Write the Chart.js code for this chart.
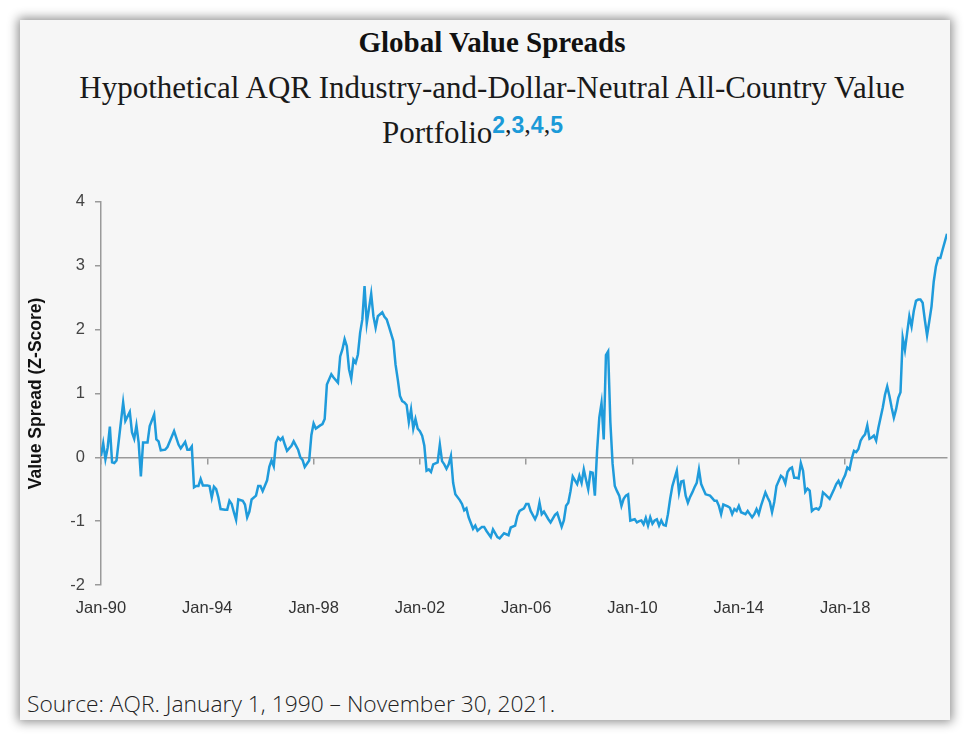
<!DOCTYPE html>
<html>
<head>
<meta charset="utf-8">
<title>Global Value Spreads</title>
<script src="https://cdn.jsdelivr.net/npm/chart.js@4.4.1/dist/chart.umd.min.js"></script>
<style>
  html, body { margin: 0; padding: 0; background: #fff; }
  body { width: 971px; height: 740px; position: relative; overflow: hidden; }
  .card {
    position: absolute; left: 20px; top: 20px; width: 930px; height: 700px;
    background: #f6f6f6; box-shadow: 0 0 10px 2px rgba(0, 0, 0, 0.45);
  }
  .title {
    position: absolute; left: 0; width: 984px; top: 27px; text-align: center;
    font: bold 29px/30px 'Liberation Serif', serif; color: #111;
  }
  .subtitle {
    position: absolute; left: 0; width: 984px; top: 72px; text-align: center;
    font: 31px/32px 'Liberation Serif', serif; color: #1a1a1a; white-space: nowrap;
  }
  .subtitle.second { width: 945px; top: 117px; }
  .refs { font-size: 26px; position: relative; top: -10px; }
  .refs span { font: bold 23px 'Liberation Sans', sans-serif; color: #1b9ad8; }
  .chart-box { position: absolute; left: 20px; top: 182px; width: 940px; height: 448px; }
  .source {
    position: absolute; left: 27px; top: 688px; white-space: nowrap;
    font: 300 22.8px 'Open Sans', sans-serif; color: #222;
  }
</style>
</head>
<body>
<div class="card"></div>
<div class="title">Global Value Spreads</div>
<div class="subtitle">Hypothetical AQR Industry-and-Dollar-Neutral All-Country Value</div>
<div class="subtitle second">Portfolio<span class="refs"><span>2</span>,<span>3</span>,<span>4</span>,<span>5</span></span></div>
<div class="chart-box"><canvas id="spreadChart"></canvas></div>
<div class="source">Source: AQR. January 1, 1990 – November 30, 2021.</div>

<script>
// months since Jan-1990
const monthOffsets = [
  0, 1, 2, 3, 4, 5, 6, 7, 10, 11, 13, 14, 15, 16, 17, 18, 19, 21, 22, 24,
  25, 26, 27, 29, 30, 33, 35, 36, 38, 39, 40, 41, 42, 43, 44, 45, 46, 48, 49, 50,
  51, 52, 53, 54, 56, 57, 58, 59, 60, 61, 62, 64, 65, 66, 67, 68, 70, 71, 72, 73,
  75, 76, 77, 78, 79, 80, 81, 82, 83, 84, 86, 87, 89, 90, 91, 92, 94, 95, 96, 97,
  99, 100, 101, 102, 104, 105, 107, 108, 109, 110, 111, 112, 113, 114, 115, 116, 117, 118, 119, 120,
  122, 123, 124, 125, 127, 128, 129, 130, 132, 133, 134, 135, 136, 137, 138, 139, 140, 141, 142, 143,
  144, 145, 146, 147, 148, 149, 150, 152, 153, 154, 155, 156, 157, 158, 159, 160, 162, 163, 164, 165,
  166, 168, 169, 170, 172, 173, 174, 176, 177, 179, 180, 182, 184, 185, 187, 188, 189, 191, 192, 193,
  194, 196, 197, 198, 199, 200, 202, 203, 205, 206, 208, 209, 210, 211, 212, 213, 214, 215, 216, 217,
  218, 219, 220, 221, 222, 223, 224, 225, 226, 227, 228, 229, 230, 231, 232, 233, 234, 235, 236, 237,
  238, 239, 241, 242, 243, 244, 245, 246, 247, 248, 249, 250, 251, 252, 253, 254, 255, 256, 257, 258,
  259, 260, 261, 262, 263, 264, 265, 266, 267, 268, 269, 270, 271, 272, 273, 275, 276, 277, 278, 279,
  280, 281, 283, 284, 285, 286, 287, 288, 289, 291, 292, 293, 294, 295, 296, 297, 298, 300, 301, 302,
  303, 304, 305, 306, 307, 308, 309, 310, 311, 312, 313, 314, 315, 316, 317, 318, 319, 320, 321, 322,
  323, 324, 325, 326, 327, 329, 331, 332, 333, 334, 335, 336, 337, 338, 339, 340, 341, 342, 343, 344,
  345, 346, 347, 348, 349, 350, 351, 352, 353, 354, 355, 356, 357, 358, 359, 360, 361, 362, 363, 364,
  365, 366, 367, 368, 369, 370, 371, 372, 373, 374, 375, 376, 377, 378, 379, 380, 382
];

const valueSpread = [
  0.02, 0.22, -0.03, 0.15, 0.48, -0.08, -0.09, -0.05, 0.86, 0.57, 0.71, 0.39, 0.29, 0.50, 0.23, -0.30, 0.23, 0.23, 0.49, 0.67,
  0.28, 0.25, 0.11, 0.12, 0.16, 0.41, 0.20, 0.14, 0.24, 0.12, 0.12, 0.17, -0.47, -0.45, -0.45, -0.34, -0.44, -0.44, -0.45, -0.63,
  -0.46, -0.50, -0.63, -0.81, -0.82, -0.82, -0.68, -0.73, -0.86, -0.98, -0.66, -0.68, -0.74, -0.94, -0.85, -0.66, -0.60, -0.45, -0.45, -0.53,
  -0.36, -0.15, -0.05, -0.14, 0.23, 0.31, 0.27, 0.31, 0.20, 0.10, 0.18, 0.25, 0.12, 0.00, -0.04, -0.15, -0.05, 0.35, 0.53, 0.45,
  0.50, 0.52, 0.60, 1.14, 1.30, 1.25, 1.17, 1.58, 1.69, 1.85, 1.74, 1.38, 1.23, 1.53, 1.48, 1.61, 1.95, 2.16, 2.68, 2.10,
  2.56, 2.21, 2.03, 2.21, 2.27, 2.20, 2.16, 2.05, 1.82, 1.45, 1.22, 0.96, 0.88, 0.86, 0.82, 0.55, 0.75, 0.45, 0.60, 0.45,
  0.41, 0.34, 0.18, -0.21, -0.19, -0.23, -0.11, -0.08, 0.20, -0.06, -0.11, -0.18, -0.11, 0.02, -0.40, -0.58, -0.67, -0.73, -0.83, -0.80,
  -0.94, -1.12, -1.07, -1.15, -1.09, -1.09, -1.15, -1.25, -1.13, -1.25, -1.27, -1.19, -1.22, -1.10, -1.07, -0.92, -0.84, -0.80, -0.73, -0.73,
  -0.84, -0.97, -0.89, -0.71, -0.89, -0.85, -0.97, -1.02, -0.90, -0.87, -1.09, -0.99, -0.76, -0.71, -0.53, -0.30, -0.36, -0.42, -0.29, -0.40,
  -0.19, -0.35, -0.50, -0.23, -0.24, -0.60, 0.10, 0.62, 0.85, 0.28, 1.60, 1.66, 0.55, -0.10, -0.45, -0.53, -0.60, -0.76, -0.65, -0.60,
  -0.58, -0.99, -0.97, -1.02, -1.00, -0.99, -1.05, -0.95, -1.07, -0.94, -1.04, -0.99, -0.97, -1.07, -0.99, -1.06, -1.07, -0.89, -0.65, -0.45,
  -0.33, -0.21, -0.55, -0.38, -0.37, -0.60, -0.71, -0.62, -0.55, -0.47, -0.40, -0.19, -0.42, -0.50, -0.58, -0.60, -0.64, -0.68, -0.68, -0.76,
  -0.89, -0.74, -0.77, -0.79, -0.89, -0.81, -0.84, -0.76, -0.86, -0.89, -0.84, -0.89, -0.94, -0.89, -0.81, -0.89, -0.76, -0.55, -0.63, -0.70,
  -0.86, -0.70, -0.45, -0.37, -0.29, -0.32, -0.41, -0.23, -0.18, -0.16, -0.32, -0.32, -0.33, -0.09, -0.21, -0.54, -0.49, -0.52, -0.84, -0.81,
  -0.80, -0.82, -0.76, -0.55, -0.58, -0.65, -0.50, -0.42, -0.37, -0.45, -0.35, -0.28, -0.16, -0.19, -0.02, 0.10, 0.08, 0.13, 0.26, 0.32,
  0.36, 0.50, 0.29, 0.31, 0.34, 0.26, 0.46, 0.62, 0.78, 0.98, 1.11, 0.96, 0.78, 0.62, 0.75, 0.93, 1.02, 1.87, 1.68, 1.95,
  2.21, 2.05, 2.29, 2.45, 2.47, 2.47, 2.42, 2.15, 1.91, 2.13, 2.36, 2.75, 2.99, 3.12, 3.12, 3.25, 3.50
];

const xTickMonths = [0, 48, 96, 144, 192, 240, 288, 336];
const xTickLabels = ['Jan-90', 'Jan-94', 'Jan-98', 'Jan-02', 'Jan-06', 'Jan-10', 'Jan-14', 'Jan-18'];
const lastMonth = 382; // Nov-21

const lineColor = '#1f9bdb';
const axisColor = '#9a9a9a';
const tickFont = { family: "'Liberation Sans', Arial, sans-serif", size: 16.5 };

class SpreadChart {
  constructor(canvasId) {
    this.chart = null;
    this.ctx = document.getElementById(canvasId);
  }

  render() {
    const points = monthOffsets.map((m, i) => ({ x: m, y: valueSpread[i] }));

    this.chart = new Chart(this.ctx, {
      type: 'line',
      data: {
        datasets: [{
          label: 'Value Spread (Z-Score)',
          data: points,
          borderColor: lineColor,
          backgroundColor: lineColor,
          borderWidth: 2.5,
          pointRadius: 0,
          tension: 0,
          xAxisID: 'x',
          yAxisID: 'y'
        }]
      },
      options: this.getChartOptions()
    });
  }

  getChartOptions() {
    const setMonthTicks = (scale) => {
      scale.ticks = xTickMonths.map(v => ({ value: v }));
    };

    return {
      responsive: true,
      maintainAspectRatio: false,
      animation: false,
      layout: { padding: { top: 3, right: 13, bottom: 0, left: 0 } },
      plugins: {
        legend: { display: false },
        tooltip: { enabled: false }
      },
      scales: {
        x: {
          type: 'linear',
          position: 'bottom',
          min: 0,
          max: lastMonth,
          afterBuildTicks: setMonthTicks,
          afterFit: (scale) => { scale.height = 45; },
          ticks: {
            autoSkip: false,
            maxRotation: 0,
            padding: 6,
            color: '#333',
            font: tickFont,
            callback: (value, index) => xTickLabels[index]
          },
          grid: { display: false },
          border: { display: false }
        },
        // axis line drawn through zero, with the small month ticks
        zero: {
          type: 'linear',
          axis: 'x',
          position: { y: 0 },
          min: 0,
          max: lastMonth,
          afterBuildTicks: setMonthTicks,
          ticks: { display: false },
          grid: {
            drawOnChartArea: false,
            drawTicks: true,
            tickLength: 6,
            color: axisColor,
            lineWidth: 1.5
          },
          border: { display: true, color: axisColor, width: 1.5 }
        },
        y: {
          min: -2,
          max: 4,
          afterFit: (scale) => { scale.width = 81; },
          ticks: {
            stepSize: 1,
            padding: 10,
            color: '#444',
            font: tickFont
          },
          grid: {
            drawOnChartArea: false,
            drawTicks: true,
            tickLength: 6,
            color: axisColor,
            lineWidth: 1.5
          },
          border: { display: true, color: axisColor, width: 1.5 },
          title: {
            display: true,
            text: 'Value Spread (Z-Score)',
            color: '#111',
            padding: { top: 6, bottom: 0 },
            font: { family: "'Liberation Sans', Arial, sans-serif", size: 17.5, weight: 'bold' }
          }
        }
      }
    };
  }
}

new SpreadChart('spreadChart').render();
</script>
</body>
</html>
